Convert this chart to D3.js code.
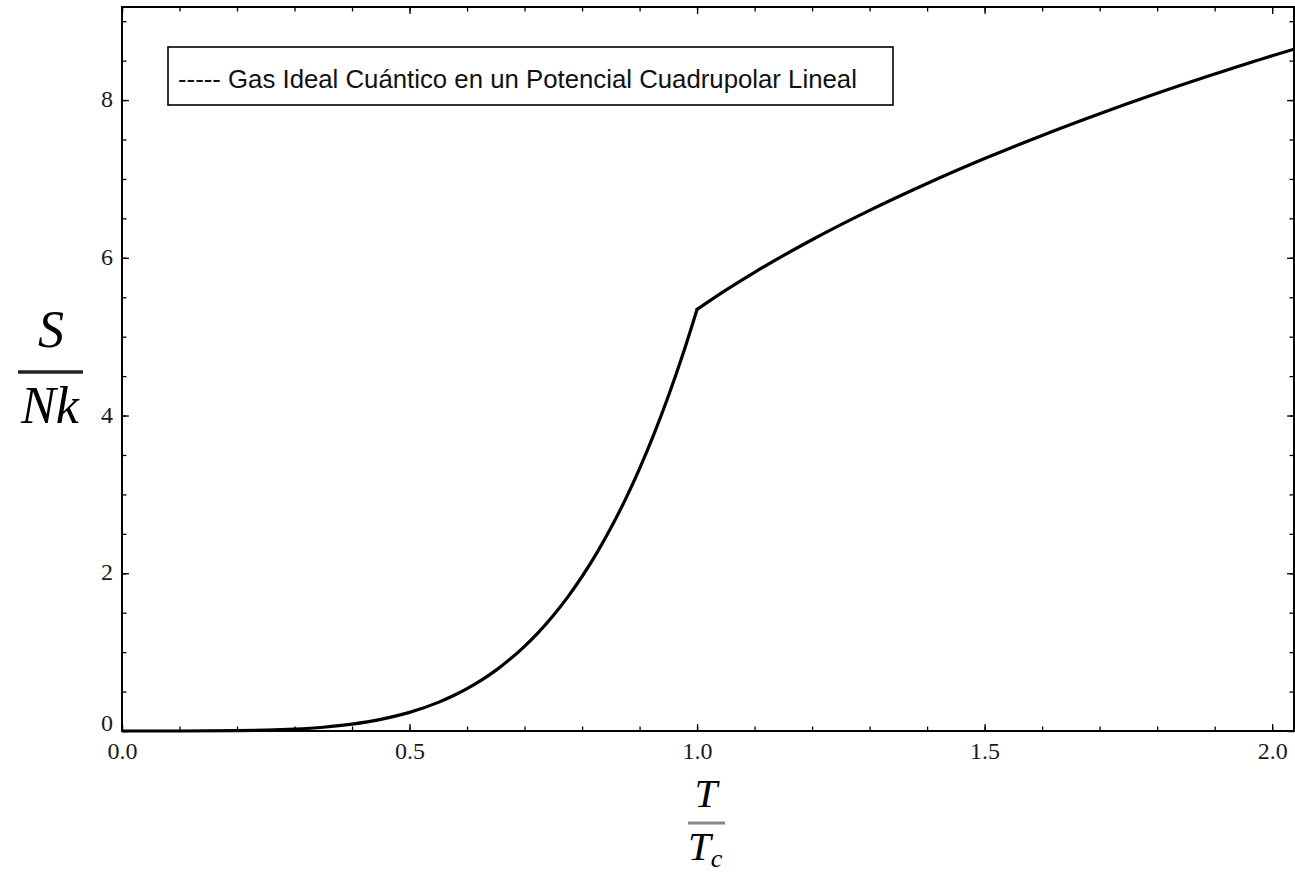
<!DOCTYPE html>
<html>
<head>
<meta charset="utf-8">
<script src="https://cdn.jsdelivr.net/npm/d3@7"></script>
<style>
  html, body { margin: 0; padding: 0; background: #fff; }
  svg { display: block; }
</style>
</head>
<body>
<svg id="chart" width="1295" height="872"></svg>
<script>
// ---- Data ----
const tBelow = [0, 0.1, 0.2, 0.25, 0.3, 0.35, 0.4, 0.45, 0.5, 0.55, 0.575, 0.6, 0.625, 0.65, 0.675, 0.7, 0.725, 0.75, 0.775, 0.8, 0.825, 0.85, 0.875, 0.9, 0.925, 0.95, 0.975, 1.0];
const sBelow = [0, 0.0002, 0.0038, 0.0104, 0.0237, 0.0475, 0.0866, 0.147, 0.236, 0.363, 0.443, 0.537, 0.645, 0.769, 0.912, 1.074, 1.258, 1.465, 1.698, 1.959, 2.249, 2.573, 2.931, 3.328, 3.764, 4.244, 4.770, 5.346];
const tAbove = [1.0, 1.05, 1.1, 1.2, 1.3, 1.4, 1.5, 1.6, 1.7, 1.8, 1.9, 2.0, 2.038];
const sAbove = [5.346, 5.590, 5.816, 6.229, 6.601, 6.942, 7.258, 7.552, 7.827, 8.086, 8.330, 8.562, 8.645];

const xDomain = [0, 2.038];
const yDomain = [0, 9.18];
const xMajorTicks = [0, 0.5, 1.0, 1.5, 2.0];
const xTickLabels = ["0.0", "0.5", "1.0", "1.5", "2.0"];
const yMajorTicks = [0, 2, 4, 6, 8];
const yTickLabels = ["0", "2", "4", "6", "8"];
const legendLabel = "----- Gas Ideal Cuántico en un Potencial Cuadrupolar Lineal";

// ---- Layout ----
const L = 122, R = 1294, T = 7, B = 731;
const svg = d3.select("#chart");
const x = d3.scaleLinear().domain(xDomain).range([L, R]);
const y = d3.scaleLinear().domain(yDomain).range([B, T]);

const xMinor = d3.range(0, 2.0401, 0.1).filter(v => v <= xDomain[1]);
const yMinor = d3.range(0, 9.01, 0.5).filter(v => v <= yDomain[1]);

const tickFont = "'Liberation Serif', 'Times New Roman', serif";

// Bottom axis
const bottom = svg.append("g").attr("transform", `translate(0,${B})`);
bottom.call(d3.axisBottom(x).tickValues(xMinor).tickSize(-4.5).tickFormat(""));
bottom.call(g => g.selectAll(".tick line").attr("stroke", "#000").attr("stroke-width", 1.3));
const bottomMaj = svg.append("g").attr("transform", `translate(0,${B})`)
  .call(d3.axisBottom(x).tickValues(xMajorTicks).tickSize(-7).tickPadding(14)
    .tickFormat((d, i) => xTickLabels[i]));
bottomMaj.selectAll(".tick line").attr("stroke", "#000").attr("stroke-width", 1.3);
bottomMaj.selectAll(".tick text").attr("font-family", tickFont).attr("font-size", 24).attr("fill", "#1a1a1a")
  .attr("y", 11).attr("dy", "0.71em");

// Top axis (ticks only)
svg.append("g").attr("transform", `translate(0,${T})`)
  .call(d3.axisTop(x).tickValues(xMinor).tickSize(-4.5).tickFormat(""))
  .call(g => g.selectAll(".tick line").attr("stroke", "#000").attr("stroke-width", 1.3));
svg.append("g").attr("transform", `translate(0,${T})`)
  .call(d3.axisTop(x).tickValues(xMajorTicks).tickSize(-7).tickFormat(""))
  .call(g => g.selectAll(".tick line").attr("stroke", "#000").attr("stroke-width", 1.3));

// Left axis
svg.append("g").attr("transform", `translate(${L},0)`)
  .call(d3.axisLeft(y).tickValues(yMinor).tickSize(-4.5).tickFormat(""))
  .call(g => g.selectAll(".tick line").attr("stroke", "#000").attr("stroke-width", 1.3));
const leftMaj = svg.append("g").attr("transform", `translate(${L},0)`)
  .call(d3.axisLeft(y).tickValues(yMajorTicks).tickSize(-7).tickPadding(10)
    .tickFormat((d, i) => yTickLabels[i]));
leftMaj.selectAll(".tick line").attr("stroke", "#000").attr("stroke-width", 1.3);
leftMaj.selectAll(".tick text").attr("font-family", tickFont).attr("font-size", 24).attr("fill", "#1a1a1a")
  .attr("x", -9)
  .attr("y", d => d === 0 ? -8 : -1);

// Right axis (ticks only)
svg.append("g").attr("transform", `translate(${R},0)`)
  .call(d3.axisRight(y).tickValues(yMinor).tickSize(-4.5).tickFormat(""))
  .call(g => g.selectAll(".tick line").attr("stroke", "#000").attr("stroke-width", 1.3));
svg.append("g").attr("transform", `translate(${R},0)`)
  .call(d3.axisRight(y).tickValues(yMajorTicks).tickSize(-7).tickFormat(""))
  .call(g => g.selectAll(".tick line").attr("stroke", "#000").attr("stroke-width", 1.3));

svg.selectAll(".domain").remove();

// Frame
svg.append("rect").attr("x", L).attr("y", T).attr("width", R - L).attr("height", B - T)
  .attr("fill", "none").attr("stroke", "#000").attr("stroke-width", 2);

// Curve
const line = d3.line().x(d => x(d[0])).y(d => y(d[1])).curve(d3.curveMonotoneX);
const below = tBelow.map((t, i) => [t, sBelow[i]]);
const above = tAbove.map((t, i) => [t, sAbove[i]]);
svg.append("clipPath").attr("id", "plotclip")
  .append("rect").attr("x", L).attr("y", T).attr("width", R - L).attr("height", B - T + 2);
[below, above].forEach(series => {
  svg.append("path").datum(series).attr("d", line)
    .attr("fill", "none").attr("stroke", "#000").attr("stroke-width", 3.2)
    .attr("stroke-linejoin", "round").attr("stroke-linecap", "round")
    .attr("clip-path", "url(#plotclip)");
});

// Legend
svg.append("rect").attr("x", 168).attr("y", 47).attr("width", 725).attr("height", 58)
  .attr("fill", "#fff").attr("stroke", "#000").attr("stroke-width", 1.6);
const leg = svg.append("text").attr("x", 178).attr("y", 88)
  .attr("font-family", "'Liberation Sans', Arial, sans-serif").attr("font-size", 26)
  .attr("fill", "#111").text(legendLabel);
const w = leg.node().getComputedTextLength();
leg.attr("font-size", 26 * 679 / w);

// Y axis label: S / Nk
const labFont = "'Liberation Serif', 'Times New Roman', serif";
svg.append("text").attr("x", 51).attr("y", 347).attr("text-anchor", "middle")
  .attr("font-family", labFont).attr("font-style", "italic").attr("font-size", 52)
  .attr("fill", "#000").text("S");
svg.append("line").attr("x1", 18).attr("x2", 83).attr("y1", 372).attr("y2", 372)
  .attr("stroke", "#222").attr("stroke-width", 3.5);
svg.append("text").attr("x", 50).attr("y", 423).attr("text-anchor", "middle")
  .attr("font-family", labFont).attr("font-style", "italic").attr("font-size", 52)
  .attr("fill", "#000").text("Nk");

// X axis label: T / T_c
svg.append("text").attr("x", 706).attr("y", 807).attr("text-anchor", "middle")
  .attr("font-family", labFont).attr("font-style", "italic").attr("font-size", 41)
  .attr("fill", "#000").text("T");
svg.append("line").attr("x1", 688).attr("x2", 725).attr("y1", 823).attr("y2", 823)
  .attr("stroke", "#888").attr("stroke-width", 3);
const tc = svg.append("text").attr("x", 688).attr("y", 860)
  .attr("font-family", labFont).attr("font-style", "italic").attr("font-size", 41)
  .attr("fill", "#000");
tc.append("tspan").text("T");
tc.append("tspan").attr("font-size", 26).attr("dy", 7).text("c");
</script>
</body>
</html>
